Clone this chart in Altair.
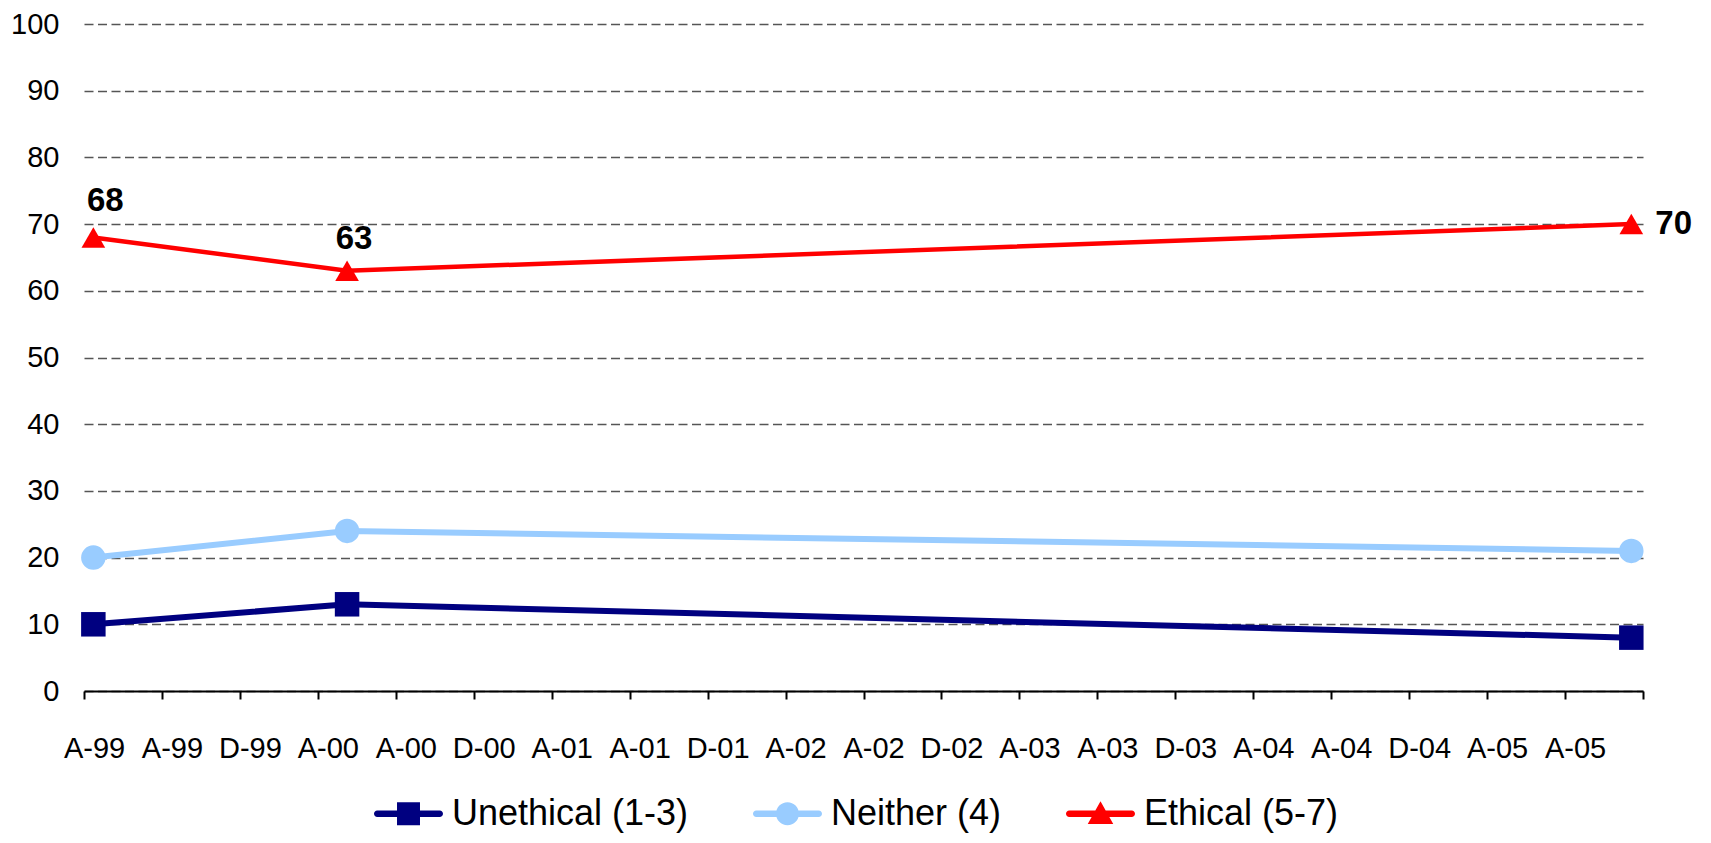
import altair as alt
import pandas as pd

# ---- data ----
series_names = ["Unethical (1-3)", "Neither (4)", "Ethical (5-7)"]
survey_months = [0.48, 13.5, 79.4]          # months after April 1999
unethical = [10, 13, 8]
neither = [20, 24, 21]
ethical = [68, 63, 70]
tick_labels = ["A-99", "A-99", "D-99", "A-00", "A-00", "D-00", "A-01", "A-01", "D-01",
               "A-02", "A-02", "D-02", "A-03", "A-03", "D-03", "A-04", "A-04", "D-04",
               "A-05", "A-05", ""]
colors = ["#000080", "#99CCFF", "#FF0000"]

rows = []
for name, vals in zip(series_names, [unethical, neither, ethical]):
    for m, v in zip(survey_months, vals):
        rows.append({"series": name, "month": m, "value": v})
df = pd.DataFrame(rows)

FONT = "Liberation Sans"

label_js = "[" + ",".join("'" + t + "'" for t in tick_labels) + "][round(datum.value/4)]"

x_enc = alt.X(
    "month:Q",
    scale=alt.Scale(domain=[0, 80], nice=False, zero=False),
    axis=alt.Axis(values=list(range(0, 81, 4)), labelExpr=label_js, title=None, grid=False,
                  domainColor="black", domainWidth=2, tickColor="black", tickWidth=2,
                  tickSize=8, labelFontSize=29, labelPadding=35, labelOffset=10,
                  labelFlush=False, labelOverlap=False, labelColor="black", labelFont=FONT),
)
y_enc = alt.Y(
    "value:Q",
    scale=alt.Scale(domain=[0, 100], nice=False),
    axis=alt.Axis(values=list(range(0, 101, 10)), title=None, domain=False, ticks=False,
                  labelFontSize=29, labelPadding=25, labelColor="black", labelFont=FONT,
                  grid=True, gridDash=[9, 4.5], gridColor="#555555", gridWidth=1.3),
)
color_scale = alt.Scale(domain=series_names, range=colors)

base = alt.Chart(df)

widths = [6, 6, 4.5]
shapes = ["square", "circle", "triangle-up"]
sizes = [600, 600, 560]

line_layers = [
    base.transform_filter(alt.datum.series == name)
    .mark_line(color=col, strokeWidth=w)
    .encode(x=x_enc, y=y_enc)
    for name, col, w in zip(series_names, colors, widths)
]
point_layers = [
    base.transform_filter(alt.datum.series == name)
    .mark_point(shape=shp, filled=True, size=sz, opacity=1, color=col)
    .encode(x=x_enc, y=y_enc)
    for name, shp, sz, col in zip(series_names, shapes, sizes, colors)
]

line_part = "M-0.906,-0.094 H0.906 A0.094 0.094 0 0 1 0.906,0.094 H-0.906 A0.094 0.094 0 0 1 -0.906,-0.094 Z "
legend_paths = [
    line_part + "M-0.333,-0.333 H0.333 V0.333 H-0.333 Z",
    line_part + "M0.333,0 A0.333 0.333 0 1 1 -0.333,0 A0.333 0.333 0 1 1 0.333,0 Z",
    line_part + "M0,-0.36 L0.37,0.3 L-0.37,0.3 Z",
]
legend_obj = alt.Legend(orient="none", direction="horizontal", legendX=290, legendY=755,
                        title=None, labelFontSize=36, labelFont=FONT, labelColor="black",
                        symbolSize=4761, symbolStrokeWidth=0, labelLimit=600,
                        columnPadding=63, labelOffset=9, symbolOpacity=1)
legend_layer = base.transform_filter("false").mark_point(filled=True, opacity=1).encode(
    x=x_enc, y=y_enc,
    color=alt.Color("series:N", scale=color_scale, legend=legend_obj),
    shape=alt.Shape("series:N", scale=alt.Scale(domain=series_names, range=legend_paths),
                    legend=legend_obj),
)

eth = base.transform_filter(alt.datum.series == "Ethical (5-7)")
text_specs = [(0, 12, -36, "center"), (1, 7, -32, "center"), (2, 24, 0, "left")]
text_layers = [
    eth.transform_filter(alt.datum.month == survey_months[i])
    .mark_text(font=FONT, fontSize=33, fontWeight="bold", color="black",
               dx=dx, dy=dy, align=al, baseline="middle")
    .encode(x=x_enc, y=y_enc, text=alt.Text("value:Q"))
    for i, dx, dy, al in text_specs
]

chart = alt.layer(*line_layers, *point_layers, legend_layer, *text_layers).properties(
    width=1559, height=667,
    autosize=alt.AutoSizeParams(type="none"),
    padding={"left": 76, "top": 16, "right": 60, "bottom": 142},
).configure_view(stroke=None)

chart.save("out.html", embed_options={"renderer": "svg", "actions": False})
